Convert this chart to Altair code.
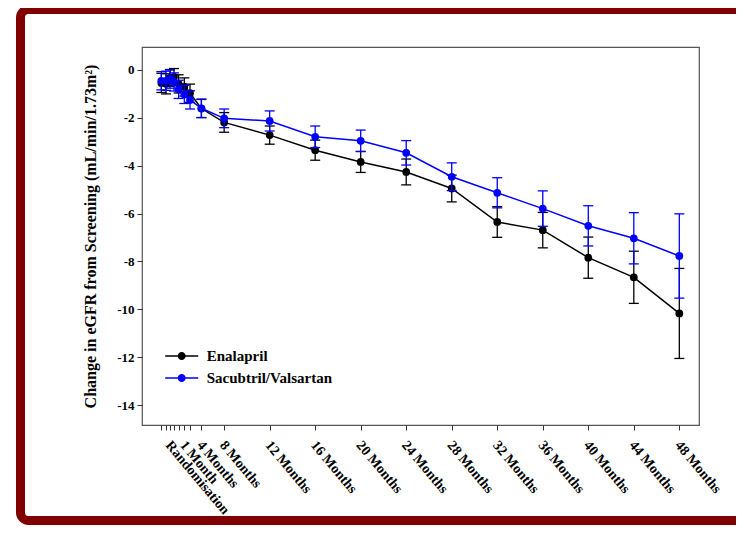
import altair as alt
import pandas as pd

# ---- data ----
series_names = ["Enalapril", "Sacubtril/Valsartan"]
series_colors = ["#000000", "#0000ff"]

# visit positions on the time axis and their labels
visit_pos = [2.48, 2.89, 3.24, 3.59, 4.0, 4.5, 5.0, 6.0, 8, 12, 16, 20, 24, 28, 32, 36, 40, 44, 48]
tick_labels = ["", "", "Randomisation", "", "", "1 Month", "", "4 Months", "8 Months",
               "12 Months", "16 Months", "20 Months", "24 Months", "28 Months", "32 Months",
               "36 Months", "40 Months", "44 Months", "48 Months"]

enal_mean = [-0.54, -0.58, -0.33, -0.29, -0.58, -0.71, -0.97, -1.61, -2.19, -2.72, -3.35,
             -3.84, -4.26, -4.95, -6.35, -6.69, -7.84, -8.66, -10.17]
enal_err = [0.40, 0.42, 0.35, 0.35, 0.38, 0.38, 0.38, 0.38, 0.41, 0.38, 0.42,
            0.44, 0.54, 0.56, 0.64, 0.74, 0.86, 1.09, 1.88]
sv_mean = [-0.45, -0.45, -0.38, -0.50, -0.81, -1.02, -1.25, -1.60, -2.02, -2.13, -2.79,
           -2.96, -3.46, -4.46, -5.13, -5.79, -6.51, -7.03, -7.77]
sv_err = [0.38, 0.40, 0.38, 0.38, 0.38, 0.38, 0.38, 0.385, 0.39, 0.42, 0.45,
          0.45, 0.51, 0.58, 0.63, 0.74, 0.84, 1.07, 1.76]

y_ticks = [0, -2, -4, -6, -8, -10, -12, -14]

rows = []
for name, means, errs in [(series_names[0], enal_mean, enal_err), (series_names[1], sv_mean, sv_err)]:
    for p, m, e in zip(visit_pos, means, errs):
        rows.append({"series": name, "pos": p, "mean": m, "lo": m - e, "hi": m + e})
df = pd.DataFrame(rows)

FONT = "Liberation Serif"

# label expression built from the tick lists
expr = "''"
for v, lab in reversed(list(zip(visit_pos, tick_labels))):
    expr = f"datum.value == {v} ? '{lab}' : ({expr})"

xscale = alt.Scale(domain=[0.78, 49.73], nice=False, zero=False)
yscale = alt.Scale(domain=[-14.83, 0.96], nice=False, zero=False)

xaxis = alt.Axis(values=visit_pos, labelExpr=expr, title=None, grid=False, domain=False,
                 tickSize=5, tickColor="#333", labelAngle=50, labelAlign="left",
                 labelBaseline="top", labelPadding=8, labelOffset=3, labelFont=FONT,
                 labelFontWeight="bold", labelFontSize=14, labelColor="black",
                 labelOverlap=False, labelFlush=False)
yaxis = alt.Axis(values=y_ticks, labelExpr="toString(datum.value)",
                 title="Change in eGFR from Screening (mL/min/1.73m²)", grid=False, domain=False,
                 tickSize=5, tickColor="#333", labelPadding=3, labelFont=FONT,
                 labelFontWeight="bold", labelFontSize=13, labelColor="black",
                 titleFont=FONT, titleFontWeight="bold", titleFontSize=16, titleColor="black",
                 titlePadding=18)

LEGEND_PATH = ("M-1.65,-0.075H1.65V0.075H-1.65Z"
               "M-0.4,0A0.4,0.4 0 1 1 0.4,0A0.4,0.4 0 1 1 -0.4,0Z")

legend = alt.Legend(title=None, orient="none", legendX=29.7, legendY=299, symbolType=LEGEND_PATH,
                    symbolSize=400, symbolStrokeWidth=0, symbolOpacity=1, labelFont=FONT,
                    labelFontWeight="bold", labelFontSize=15, labelColor="black",
                    labelOffset=15, rowPadding=4, padding=0)

color_enc = alt.Color("series:N", scale=alt.Scale(domain=series_names, range=series_colors), legend=legend)
X = alt.X("pos:Q", scale=xscale, axis=xaxis)


def series_layers(name, col):
    base = alt.Chart(df).transform_filter(alt.datum.series == name)
    rules = base.mark_rule(strokeWidth=1.3, color=col).encode(
        x=X, y=alt.Y("lo:Q", scale=yscale, axis=yaxis), y2="hi:Q")
    cap_lo = base.mark_rule(strokeWidth=1.3, xOffset=-5, x2Offset=5, color=col).encode(
        x=X, x2="pos:Q", y=alt.Y("lo:Q", scale=yscale, axis=yaxis))
    cap_hi = base.mark_rule(strokeWidth=1.3, xOffset=-5, x2Offset=5, color=col).encode(
        x=X, x2="pos:Q", y=alt.Y("hi:Q", scale=yscale, axis=yaxis))
    line = base.mark_line(strokeWidth=1.5, color=col).encode(
        x=X, y=alt.Y("mean:Q", scale=yscale, axis=yaxis))
    pts = base.mark_point(filled=True, size=60, opacity=1).encode(
        x=X, y=alt.Y("mean:Q", scale=yscale, axis=yaxis), color=color_enc)
    return [rules, cap_lo, cap_hi, line, pts]


frame = alt.Chart(pd.DataFrame({"f": [0]})).mark_rect(
    fillOpacity=0, stroke="#800000", strokeWidth=9, cornerRadius=8
).encode(x=alt.value(-121.5), x2=alt.value(640), y=alt.value(-37.5), y2=alt.value(473.5))

layers = (series_layers(series_names[0], series_colors[0])
          + series_layers(series_names[1], series_colors[1]) + [frame])

chart = alt.layer(*layers).properties(
    width=557, height=378,
    autosize=alt.AutoSizeParams(type="none"),
    padding={"left": 134, "top": 39, "right": 37, "bottom": 100},
    background="white",
).configure_view(stroke="#555", strokeWidth=1.2)

chart.save("out.html", embed_options={"renderer": "svg", "actions": False})
